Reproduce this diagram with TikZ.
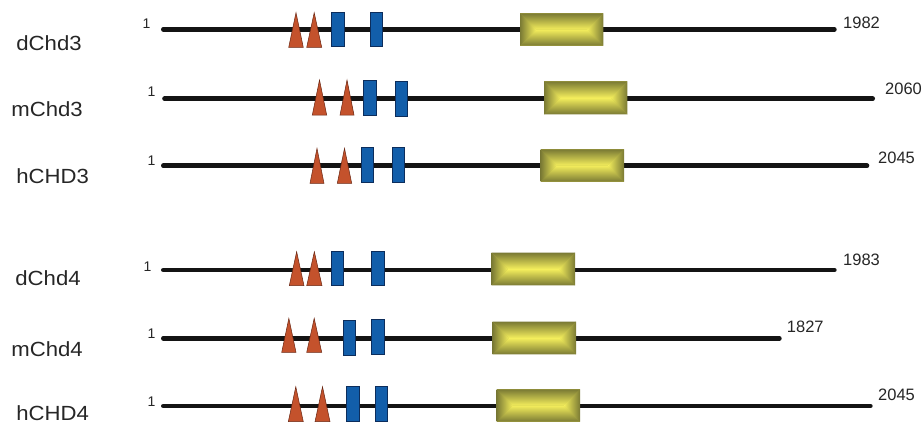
\documentclass[tikz,border=0pt]{standalone}
\usepackage{fontspec}
\setmainfont{Liberation Sans}
\newfontfamily\protfont[FakeStretch=1.08]{Liberation Sans}

\definecolor{motifred}{RGB}{196,82,44}
\definecolor{motifredline}{RGB}{105,38,18}
\definecolor{chromoblue}{RGB}{18,94,170}
\definecolor{chromoline}{RGB}{12,45,92}
\definecolor{helicaseedge}{RGB}{122,122,52}
\definecolor{helicasemid}{RGB}{185,180,72}
\definecolor{helicasecore}{RGB}{244,238,92}

\tikzset{
  backbone/.style={line width=4.6pt, line cap=round, draw=black!92},
  protname/.style={font=\protfont\fontsize{20.5}{24}\selectfont, anchor=base west, inner sep=0pt, text=black!85},
  startnum/.style={font=\fontsize{14}{16}\selectfont, anchor=base west, inner sep=0pt, text=black!85},
  endnum/.style={font=\fontsize{16.5}{19}\selectfont, anchor=base west, inner sep=0pt, text=black!85},
  phdfinger/.style={fill=motifred, draw=motifredline, line width=0.5pt},
  chromobox/.style={fill=chromoblue, draw=chromoline, line width=0.5pt},
}

% PHD finger: x-left, x-right, y-top, y-bottom
\newcommand\phd[4]{\path[phdfinger] (#1,#4) -- ({(#1+#2)/2},#3) -- (#2,#4) -- cycle;}
% chromodomain: x-left, x-right, y-top, y-bottom
\newcommand\chromo[4]{\path[chromobox] (#1,#3) rectangle (#2,#4);}
% helicase/ATPase block with a rectangular gradient
\newcommand\helicase[4]{%
  \pgfmathsetmacro\hcHalf{(#4-#3)/2}%
  \pgfmathsetmacro\hcMid{(#3+#4)/2}%
  \fill[helicasemid] (#1,#3) rectangle (#2,#4);
  \shade[top color=helicaseedge, bottom color=helicasecore]
    (#1,#3) -- (#2,#3) -- ({#2-\hcHalf},\hcMid) -- ({#1+\hcHalf},\hcMid) -- cycle;
  \shade[top color=helicasecore, bottom color=helicaseedge]
    (#1,#4) -- (#2,#4) -- ({#2-\hcHalf},\hcMid) -- ({#1+\hcHalf},\hcMid) -- cycle;
  \shade[left color=helicaseedge, right color=helicasecore]
    (#1,#3) -- ({#1+\hcHalf},\hcMid) -- (#1,#4) -- cycle;
  \shade[left color=helicasecore, right color=helicaseedge]
    (#2,#3) -- ({#2-\hcHalf},\hcMid) -- (#2,#4) -- cycle;
}

\begin{document}
\begin{tikzpicture}[x=1pt,y=-1pt]
\useasboundingbox (0,0) rectangle (923,423);

% ---------- dChd3 ----------
\node[protname] (nameD3) at (16.2,50) {dChd3};
\node[startnum] (startD3) at (142.5,28.3) {1};
\node[endnum] (endD3) at (843,28.3) {1982};
\coordinate (d3s) at (163.3,29.3);
\coordinate (d3e) at (834.4,29.3);
\draw[backbone] (d3s) -- (d3e);
\phd{288.7}{303.3}{12.7}{47.3}
\phd{306.7}{321.7}{12.7}{47.3}
\chromo{331.7}{344}{12}{46.7}
\chromo{370}{382.3}{12}{46.7}
\helicase{520}{603.3}{13.3}{45.7}

% ---------- mChd3 ----------
\node[protname] (nameM3) at (11.2,116) {mChd3};
\node[startnum] (startM3) at (147.3,96.7) {1};
\node[endnum] (endM3) at (885,94.3) {2060};
\coordinate (m3s) at (164.5,98.7);
\coordinate (m3e) at (872.7,98.7);
\draw[backbone] (m3s) -- (m3e);
\phd{312.3}{326.7}{80}{115}
\phd{340}{354}{80}{115}
\chromo{363.3}{376}{80.7}{115}
\chromo{395.7}{407.7}{81.7}{116}
\helicase{544}{627.3}{81.3}{114.3}

% ---------- hCHD3 ----------
\node[protname] (nameH3) at (16.2,183) {hCHD3};
\node[startnum] (startH3) at (147.3,165.7) {1};
\node[endnum] (endH3) at (878,163.3) {2045};
\coordinate (h3s) at (163.3,165.7);
\coordinate (h3e) at (867,165.7);
\draw[backbone] (h3s) -- (h3e);
\phd{310}{324}{148.3}{183.3}
\phd{337.3}{351.7}{148.3}{183.3}
\chromo{361}{373.3}{147.7}{182.3}
\chromo{392.3}{404.7}{147.7}{182.3}
\helicase{540.7}{624}{149.3}{181.7}

% ---------- dChd4 ----------
\node[protname] (nameD4) at (15.2,285) {dChd4};
\node[startnum] (startD4) at (143.3,271.7) {1};
\node[endnum] (endD4) at (843,265) {1983};
\coordinate (d4s) at (163.3,270);
\coordinate (d4e) at (834.4,270);
\draw[backbone] (d4s) -- (d4e);
\phd{289.3}{304}{251.7}{285.7}
\phd{306.7}{322}{251.7}{285.7}
\chromo{331}{343.3}{251.7}{285.7}
\chromo{371.7}{384}{251.7}{285.7}
\helicase{491.7}{575}{252.7}{285.3}

% ---------- mChd4 ----------
\node[protname] (nameM4) at (11.2,356.7) {mChd4};
\node[startnum] (startM4) at (147.3,338) {1};
\node[endnum] (endM4) at (786.7,332.3) {1827};
\coordinate (m4s) at (163.3,338.3);
\coordinate (m4e) at (779.4,338.3);
\draw[backbone] (m4s) -- (m4e);
\phd{281.7}{296}{318.3}{352.3}
\phd{306.7}{321.7}{318.3}{352.3}
\chromo{343.3}{355.7}{320}{355}
\chromo{371.7}{384}{319.3}{354}
\helicase{492.7}{576}{321.7}{354.3}

% ---------- hCHD4 ----------
\node[protname] (nameH4) at (16.2,420) {hCHD4};
\node[startnum] (startH4) at (147.3,406.7) {1};
\node[endnum] (endH4) at (878,400) {2045};
\coordinate (h4s) at (163.3,406);
\coordinate (h4e) at (870.4,406);
\draw[backbone] (h4s) -- (h4e);
\phd{288.3}{303.3}{386.7}{421.7}
\phd{315}{330}{386.7}{421.7}
\chromo{346.7}{359}{386.7}{421}
\chromo{375}{387.3}{386.7}{421}
\helicase{496.7}{580}{389.3}{421.7}
\end{tikzpicture}
\end{document}
